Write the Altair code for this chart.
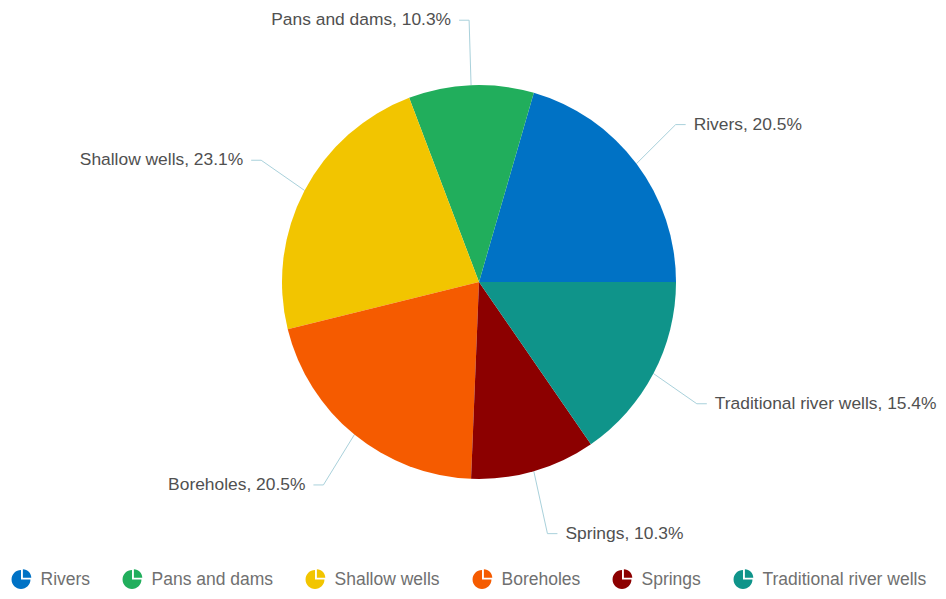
import altair as alt
import pandas as pd

# ---- data ----
categories = ["Rivers", "Pans and dams", "Shallow wells", "Boreholes", "Springs", "Traditional river wells"]
counts = [8, 4, 9, 8, 4, 6]
colors = ["#0072C5", "#21AE5C", "#F2C500", "#F55B00", "#8C0000", "#0F948A"]

df = pd.DataFrame({"idx": list(range(len(categories))), "category": categories, "value": counts})

# geometry / style constants
R = 197          # pie radius (px)
RX, RY = 246, 262  # label elbow ellipse
H_LEN = 10       # horizontal leader length
GAP = 8          # gap between leader and text
LABEL_SIZE = 17.4

xs = alt.Scale(domain=[-471, 459], nice=False, zero=False)
ys = alt.Scale(domain=[-274, 274], nice=False, zero=False)

base = alt.Chart(df).transform_joinaggregate(
    total="sum(value)"
).transform_window(
    cum="sum(value)", sort=[alt.SortField("idx", order="ascending")], frame=[None, 0]
).transform_calculate(
    before="datum.cum - datum.value",
).transform_calculate(
    t0="PI/2 - 2*PI*datum.before/datum.total",
    t1="PI/2 - 2*PI*datum.cum/datum.total",
    a="2*PI*(datum.before + datum.value/2)/datum.total",
).transform_calculate(
    side="cos(datum.a) >= 0 ? 1 : -1",
    ex=f"{R}*cos(datum.a)",
    ey=f"{R}*sin(datum.a)",
    bx=f"{RX}*cos(datum.a)",
    by=f"{RY}*sin(datum.a)",
    label="datum.category + ', ' + format(datum.value/datum.total, '.1%')",
).transform_calculate(
    hx=f"datum.bx + datum.side*{H_LEN}",
).transform_calculate(
    tx=f"datum.hx + datum.side*{GAP}",
)

legend = alt.Legend(
    title=None,
    orient="none",
    legendX=2.5,
    legendY=561,
    direction="horizontal",
    columns=6,
    symbolType="M0,0 L0.9,0 A0.9,0.9 0 1,1 0,-0.9 Z M0.18,-0.18 L0.18,-0.98 A0.8,0.8 0 0,1 0.98,-0.18 Z",
    symbolSize=441,
    symbolStrokeWidth=0,
    labelFont="Liberation Sans",
    labelFontSize=17.5,
    labelColor="#707070",
    labelOffset=9,
    labelLimit=400,
    columnPadding=31,
    padding=0,
)

arcs = base.mark_arc(radius=R).encode(
    theta=alt.Theta("t1:Q", scale=None),
    theta2="t0:Q",
    x=alt.X(datum=0, type="quantitative", scale=xs, axis=None),
    y=alt.Y(datum=0, type="quantitative", scale=ys, axis=None),
    color=alt.Color("category:N", scale=alt.Scale(domain=categories, range=colors), legend=legend),
)

lead1 = base.mark_rule(color="#a9d1db", strokeWidth=1).encode(
    x=alt.X("ex:Q", scale=xs, axis=None),
    y=alt.Y("ey:Q", scale=ys, axis=None),
    x2="bx:Q",
    y2="by:Q",
)

lead2 = base.mark_rule(color="#a9d1db", strokeWidth=1).encode(
    x=alt.X("bx:Q", scale=xs, axis=None),
    y=alt.Y("by:Q", scale=ys, axis=None),
    x2="hx:Q",
    y2="by:Q",
)

txt_right = base.transform_filter("datum.side > 0").mark_text(
    align="left", baseline="middle", font="Liberation Sans", fontSize=LABEL_SIZE, color="#505050"
).encode(
    x=alt.X("tx:Q", scale=xs, axis=None),
    y=alt.Y("by:Q", scale=ys, axis=None),
    text="label:N",
)

txt_left = base.transform_filter("datum.side < 0").mark_text(
    align="right", baseline="middle", font="Liberation Sans", fontSize=LABEL_SIZE, color="#505050"
).encode(
    x=alt.X("tx:Q", scale=xs, axis=None),
    y=alt.Y("by:Q", scale=ys, axis=None),
    text="label:N",
)

chart = alt.layer(lead1, lead2, arcs, txt_right, txt_left).properties(
    width=930, height=548, padding=0
).configure_view(strokeWidth=0)

chart.save("out.html", embed_options={"renderer": "svg", "actions": False})
